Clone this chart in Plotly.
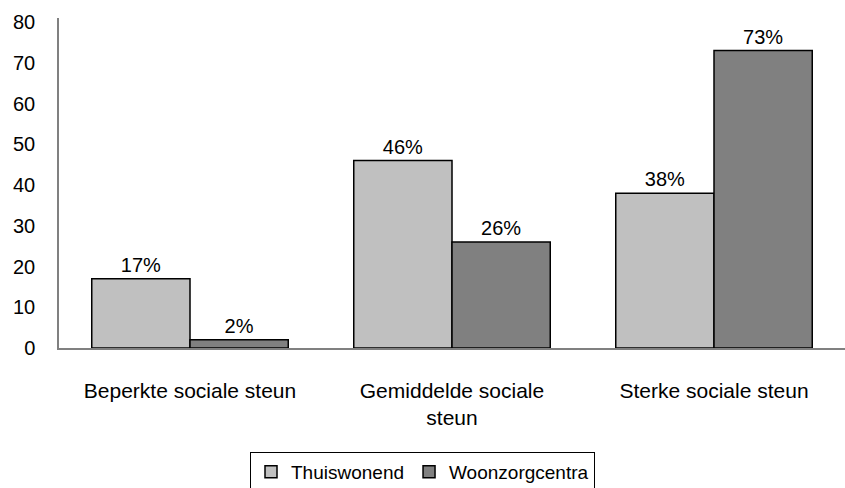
import plotly.graph_objects as go

categories = ["Beperkte sociale steun", "Gemiddelde sociale<br>steun", "Sterke sociale steun"]
thuiswonend = [17, 46, 38]
woonzorgcentra = [2, 26, 73]
y_ticks = [0, 10, 20, 30, 40, 50, 60, 70, 80]

FONT = "Liberation Sans"

fig = go.Figure()
fig.add_trace(go.Bar(
    name="Thuiswonend", x=categories, y=thuiswonend,
    marker=dict(color="#c0c0c0", line=dict(color="#000000", width=1.5)),
    text=[f"{v}%" for v in thuiswonend], textposition="outside",
    textfont=dict(family=FONT, size=20, color="#000000"), cliponaxis=False,
))
fig.add_trace(go.Bar(
    name="Woonzorgcentra", x=categories, y=woonzorgcentra,
    marker=dict(color="#808080", line=dict(color="#000000", width=1.5)),
    text=[f"{v}%" for v in woonzorgcentra], textposition="outside",
    textfont=dict(family=FONT, size=20, color="#000000"), cliponaxis=False,
))

fig.update_layout(
    width=845, height=488,
    margin=dict(l=59, r=0, t=18, b=140, autoexpand=False),
    paper_bgcolor="white", plot_bgcolor="white",
    barmode="group", bargap=0.25, bargroupgap=0,
    font=dict(family=FONT, size=20, color="#000000"),
    showlegend=True,
    legend=dict(
        orientation="h", xref="container", yref="paper",
        x=0.5, xanchor="center", y=-0.315, yanchor="top",
        bordercolor="#000000", borderwidth=1,
        font=dict(family=FONT, size=19, color="#000000"),
        itemwidth=30, tracegroupgap=0,
    ),
    xaxis=dict(
        showline=True, linecolor="#808080", linewidth=1.5,
        ticks="", ticklabelstandoff=23, automargin=False,
        tickfont=dict(family=FONT, size=21, color="#000000"),
        showgrid=False,
    ),
    yaxis=dict(
        range=[0, 81], tickvals=y_ticks, ticktext=[str(v) for v in y_ticks],
        showline=True, linecolor="#808080", linewidth=1.5, automargin=False,
        ticks="", ticklabelstandoff=18, showgrid=False, zeroline=False,
        tickfont=dict(family=FONT, size=20, color="#000000"),
    ),
)

fig.write_html("out.html", post_script="document.body.style.margin='0';",
               config={"displayModeBar": False})
